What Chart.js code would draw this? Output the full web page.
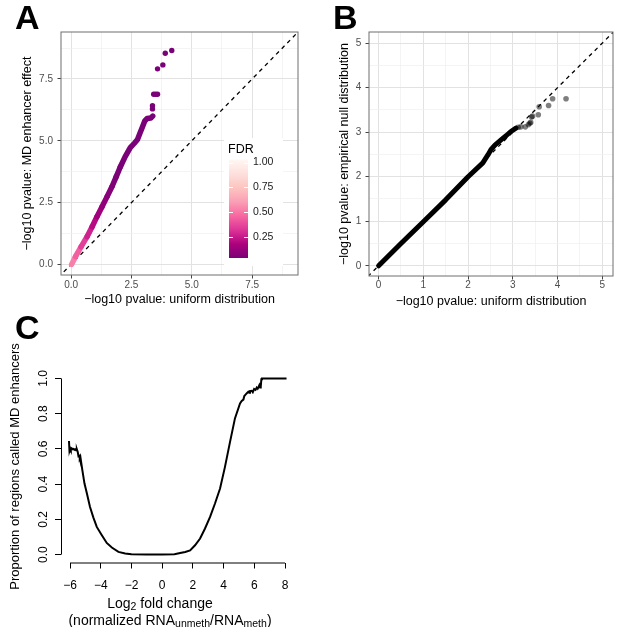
<!doctype html>
<html lang="en">
  <head>
    <meta charset="utf-8">
    <script src="https://cdn.jsdelivr.net/npm/chart.js@4.4.1/dist/chart.umd.min.js"></script>
    <title>MD enhancer QQ plots</title>
    <style>
      body { margin: 0; background: #fff; font-family: "Liberation Sans", Arial, sans-serif; }
      #fig { position: relative; width: 617px; height: 627px; overflow: hidden; }
      canvas { position: absolute; }
      .tag { position: absolute; font-size: 34px; font-weight: bold; line-height: 32px; color: #000; }
      .xt { position: absolute; width: 300px; text-align: center; font-size: 14px; line-height: 16px; color: #000; white-space: nowrap; }
      .xt sub { font-size: 10.5px; vertical-align: -2px; line-height: 0; }
    </style>
  </head>
  <body>
    <div id="fig">
      <canvas id="chartA" width="308" height="310" style="left:0;top:0"></canvas>
      <canvas id="chartB" width="309" height="310" style="left:308px;top:0"></canvas>
      <canvas id="chartC" width="308" height="317" style="left:0;top:310px"></canvas>
      <div class="tag" style="left:15px;top:1px">A</div>
      <div class="tag" style="left:333px;top:1px">B</div>
      <div class="tag" style="left:15px;top:311px">C</div>
      <div class="xt" style="left:10px;top:595px">Log<sub>2</sub> fold change</div>
      <div class="xt" style="left:20px;top:612px">(normalized RNA<sub>unmeth</sub>/RNA<sub>meth</sub>)</div>
    </div>

  <script>
    // panel A: observed -log10 p (MD enhancer effect) vs uniform
    const aBandX = [0.02, 0.18, 0.41, 0.66, 0.87, 1.07, 1.28, 1.49, 1.69, 1.87, 2.04, 2.24, 2.45, 2.62, 2.75, 2.85, 2.95, 3.05, 3.15, 3.30, 3.38];
    const aBandY = [0.00, 0.31, 0.71, 1.12, 1.52, 1.93, 2.33, 2.74, 3.14, 3.55, 3.95, 4.36, 4.72, 4.90, 5.05, 5.30, 5.55, 5.80, 5.90, 5.92, 6.00];
    const aBandFdr = [0.52, 0.44, 0.35, 0.27, 0.20, 0.14, 0.10, 0.07, 0.05, 0.04, 0.034, 0.034, 0.034, 0.034, 0.034, 0.034, 0.034, 0.034, 0.034, 0.034, 0.034];
    const aTopX = [3.37, 3.37, 3.42, 3.50, 3.58, 3.58, 3.80, 3.90, 4.17];
    const aTopY = [6.29, 6.42, 6.88, 6.88, 6.88, 7.91, 8.07, 8.54, 8.65];
    const aTopFdr = [0.034, 0.034, 0.034, 0.034, 0.034, 0.034, 0.034, 0.034, 0.034];
    const aTicks = [0, 2.5, 5, 7.5];
    const aMinor = [1.25, 3.75, 6.25, 8.75];
    const fdrTicks = [0.25, 0.5, 0.75, 1.0];

    // panel B: empirical null vs uniform
    const bBandX = [0.00, 0.50, 1.00, 1.50, 2.00, 2.33, 2.45, 2.52, 2.60, 2.73, 2.85, 2.95, 3.07];
    const bBandY = [0.00, 0.50, 0.99, 1.48, 2.00, 2.31, 2.50, 2.62, 2.71, 2.82, 2.92, 3.01, 3.09];
    const bTopX = [3.12, 3.18, 3.28, 3.35, 3.38, 3.40, 3.42, 3.44, 3.57, 3.59, 3.80, 3.89, 4.19];
    const bTopY = [3.11, 3.12, 3.12, 3.17, 3.20, 3.22, 3.34, 3.36, 3.39, 3.57, 3.60, 3.75, 3.75];
    const bTicks = [0, 1, 2, 3, 4, 5];
    const bMinor = [0.5, 1.5, 2.5, 3.5, 4.5];

    // y = x reference line
    const diag = [-1, 10];

    // panel C: proportion called MD enhancers by log2 fold change
    const foldChange = [-6.07, -6.04, -6.00, -5.95, -5.89, -5.83, -5.78, -5.72, -5.67, -5.61, -5.56, -5.50, -5.45, -5.40, -5.37, -5.33, -5.28, -5.20, -5.06, -4.91,
      -4.70, -4.48, -4.26, -3.93, -3.61, -3.28, -2.85, -2.41, -2.00, -1.00, 0.00, 0.80, 1.17, 1.50, 1.82, 2.14, 2.47, 2.79, 3.12, 3.44,
      3.77, 4.09, 4.42, 4.74, 5.07, 5.18, 5.29, 5.35, 5.40, 5.50, 5.61, 5.67, 5.72, 5.83, 5.90, 5.99, 6.08, 6.16, 6.22, 6.27,
      6.33, 6.38, 6.42, 6.46, 6.50, 8.10];
    const propMD = [0.645, 0.592, 0.605, 0.594, 0.603, 0.598, 0.600, 0.595, 0.598, 0.592, 0.598, 0.582, 0.558, 0.560, 0.548, 0.556, 0.526, 0.479, 0.403, 0.350,
      0.270, 0.210, 0.157, 0.110, 0.066, 0.040, 0.015, 0.006, 0.002, 0.000, 0.000, 0.002, 0.009, 0.015, 0.024, 0.053, 0.091, 0.148, 0.214, 0.290,
      0.375, 0.498, 0.640, 0.773, 0.858, 0.872, 0.880, 0.900, 0.905, 0.915, 0.924, 0.918, 0.928, 0.930, 0.922, 0.940, 0.935, 0.948, 0.942, 0.950,
      0.962, 0.948, 0.952, 0.995, 1.000, 1.000];
    const foldTicks = [-6, -4, -2, 0, 2, 4, 6, 8];
    const propTicks = [0, 0.2, 0.4, 0.6, 0.8, 1.0];

    Chart.defaults.font.family = '"Liberation Sans", Arial, sans-serif';

    // RdPu ramp for FDR
    const rdpu = ['#7a0177', '#ae017e', '#dd3497', '#f768a1', '#fa9fb5', '#fcc5c0', '#fde0dd', '#fff7f3'];
    const fdrLimits = [0.034, 1.031];
    const hex = h => [1, 3, 5].map(i => parseInt(h.slice(i, i + 2), 16));
    function fdrColor(v) {
      let t = (v - fdrLimits[0]) / (fdrLimits[1] - fdrLimits[0]);
      t = Math.max(0, Math.min(1, t)) * (rdpu.length - 1);
      const i = Math.min(Math.floor(t), rdpu.length - 2), f = t - i;
      const a = hex(rdpu[i]), b = hex(rdpu[i + 1]);
      return 'rgb(' + a.map((c, k) => Math.round(c + (b[k] - c) * f)).join(',') + ')';
    }

    const pts = (xs, ys) => xs.map((x, i) => ({ x: x, y: ys[i] }));

    // ggplot theme_bw style axis
    function ggAxis(min, max, majors, minors, fmt, title, o) {
      const isMajor = c => c.tick && majors.includes(c.tick.value);
      return {
        type: 'linear', min: min, max: max,
        afterBuildTicks: s => { s.ticks = majors.concat(minors).sort((p, q) => p - q).map(v => ({ value: v })); },
        afterFit: s => { if (o.w) s.width = o.w; if (o.h) s.height = o.h; },
        border: { display: false },
        grid: {
          color: c => isMajor(c) ? '#e2e2e2' : '#efefef',
          lineWidth: c => isMajor(c) ? 1 : 0.7,
          tickColor: c => isMajor(c) ? '#444' : 'rgba(0,0,0,0)',
          tickLength: 3.5, tickWidth: 1
        },
        ticks: { padding: o.tp, color: '#4d4d4d', font: { size: 10 }, autoSkip: false, maxRotation: 0,
          callback: v => majors.includes(v) ? fmt(v) : '' },
        title: { display: true, text: title, color: '#000', font: { size: 12.5 }, padding: o.title }
      };
    }

    const panelBorder = {
      id: 'panelBorder',
      afterDatasetsDraw(chart) {
        const { ctx, chartArea: a } = chart;
        ctx.save();
        ctx.strokeStyle = '#6e6e6e';
        ctx.lineWidth = 1;
        ctx.strokeRect(a.left, a.top, a.right - a.left, a.bottom - a.top);
        ctx.restore();
      }
    };

    // FDR colour bar, drawn inside panel A like the ggplot legend
    const fdrLegend = {
      id: 'fdrLegend',
      afterDraw(chart) {
        const ctx = chart.ctx;
        const bx = 229, top = 159.5, bottom = 258, bw = 19;
        const yOf = v => bottom - (v - fdrLimits[0]) / (fdrLimits[1] - fdrLimits[0]) * (bottom - top);
        ctx.save();
        ctx.fillStyle = '#fff';
        ctx.fillRect(224, 138, 59, 128);
        const g = ctx.createLinearGradient(0, bottom, 0, top);
        rdpu.forEach((c, i) => g.addColorStop(i / (rdpu.length - 1), c));
        ctx.fillStyle = g;
        ctx.fillRect(bx, top, bw, bottom - top);
        ctx.strokeStyle = '#fff';
        ctx.lineWidth = 1;
        ctx.font = '10.5px "Liberation Sans", Arial, sans-serif';
        ctx.textBaseline = 'middle';
        fdrTicks.forEach(v => {
          const y = Math.round(yOf(v)) + 0.5;
          ctx.beginPath();
          ctx.moveTo(bx, y); ctx.lineTo(bx + 4, y);
          ctx.moveTo(bx + bw - 4, y); ctx.lineTo(bx + bw, y);
          ctx.stroke();
          ctx.fillStyle = '#1a1a1a';
          ctx.fillText(v.toFixed(2), bx + bw + 5, yOf(v));
        });
        ctx.font = '12.5px "Liberation Sans", Arial, sans-serif';
        ctx.fillStyle = '#000';
        ctx.fillText('FDR', 228, 150);
        ctx.restore();
      }
    };

    // base R style axes for panel C
    const baseAxes = {
      id: 'baseAxes',
      afterDraw(chart) {
        const { ctx, chartArea: a, scales: { x, y } } = chart;
        ctx.save();
        ctx.strokeStyle = '#000';
        ctx.lineWidth = 1;
        ctx.beginPath();
        ctx.moveTo(a.left + 0.5, y.getPixelForValue(propTicks[0]));
        ctx.lineTo(a.left + 0.5, y.getPixelForValue(propTicks[propTicks.length - 1]));
        ctx.moveTo(x.getPixelForValue(foldTicks[0]), a.bottom + 0.5);
        ctx.lineTo(x.getPixelForValue(foldTicks[foldTicks.length - 1]), a.bottom + 0.5);
        ctx.stroke();
        ctx.fillStyle = '#000';
        ctx.font = '12px "Liberation Sans", Arial, sans-serif';
        ctx.textAlign = 'center';
        ctx.textBaseline = 'middle';
        propTicks.forEach(v => {
          ctx.save();
          ctx.translate(a.left - 17.5, y.getPixelForValue(v));
          ctx.rotate(-Math.PI / 2);
          ctx.fillText(v.toFixed(1), 0, 0);
          ctx.restore();
        });
        ctx.restore();
      }
    };

    const common = {
      responsive: false, animation: false, events: [],
      plugins: { legend: { display: false }, tooltip: { enabled: false } }
    };

    const diagLine = {
      data: pts(diag, diag), showLine: true, borderColor: '#000', borderWidth: 1.3,
      borderDash: [4, 4], pointRadius: 0, order: 3
    };

    new Chart(document.getElementById('chartA'), {
      type: 'scatter',
      data: {
        datasets: [
          diagLine,
          {
            data: pts(aBandX, aBandY), showLine: true, borderWidth: 5.5, pointRadius: 0,
            borderColor: fdrColor(0.034), borderCapStyle: 'round', borderJoinStyle: 'round',
            segment: { borderColor: c => fdrColor(aBandFdr[c.p0DataIndex]) }, order: 2
          },
          {
            data: pts(aTopX, aTopY), pointRadius: 2.7, pointBorderWidth: 0,
            pointBackgroundColor: aTopFdr.map(fdrColor), order: 1
          }
        ]
      },
      options: Object.assign({}, common, {
        layout: { padding: { top: 32, right: 10, left: 0, bottom: 0 } },
        scales: {
          x: ggAxis(-0.42, 9.4, aTicks, aMinor, v => v.toFixed(1), '\u2212log10 pvalue: uniform distribution',
            { h: 35, tp: 1.2, title: { top: 0, bottom: 2.5 } }),
          y: ggAxis(-0.43, 9.4, aTicks, aMinor, v => v.toFixed(1), '\u2212log10 pvalue: MD enhancer effect',
            { w: 61, tp: 4.5, title: { top: 20.5, bottom: 0 } })
        }
      }),
      plugins: [panelBorder, fdrLegend]
    });

    new Chart(document.getElementById('chartB'), {
      type: 'scatter',
      data: {
        datasets: [
          diagLine,
          {
            data: pts(bBandX, bBandY), showLine: true, borderWidth: 5, pointRadius: 0,
            borderColor: '#000', borderCapStyle: 'round', borderJoinStyle: 'round', order: 2
          },
          {
            data: pts(bTopX, bTopY), pointRadius: 2.8, pointBorderWidth: 0,
            pointBackgroundColor: 'rgba(0,0,0,0.5)', order: 1
          }
        ]
      },
      options: Object.assign({}, common, {
        layout: { padding: { top: 32, right: 3, left: 0, bottom: 0 } },
        scales: {
          x: ggAxis(-0.215, 5.24, bTicks, bMinor, v => String(v), '\u2212log10 pvalue: uniform distribution',
            { h: 34, tp: 0.2, title: { top: 0, bottom: 0.8 } }),
          y: ggAxis(-0.23, 5.25, bTicks, bMinor, v => String(v), '\u2212log10 pvalue: empirical null distribution',
            { w: 61, tp: 4.2, title: { top: 29.2, bottom: 0 } })
        }
      }),
      plugins: [panelBorder]
    });

    new Chart(document.getElementById('chartC'), {
      type: 'scatter',
      data: {
        datasets: [{
          data: pts(foldChange, propMD), showLine: true, borderColor: '#000', borderWidth: 2,
          pointRadius: 0, tension: 0
        }]
      },
      options: Object.assign({}, common, {
        layout: { padding: { top: 60.5, right: 14.4, left: 0, bottom: 0 } },
        scales: {
          x: {
            type: 'linear', min: -6.59, max: 8.56,
            afterBuildTicks: s => { s.ticks = foldTicks.map(v => ({ value: v })); },
            afterFit: s => { s.height = 64.5; },
            border: { display: false },
            grid: { drawOnChartArea: false, drawTicks: true, tickLength: 6, color: '#000', lineWidth: 1 },
            ticks: { padding: 10.3, color: '#000', font: { size: 12 }, autoSkip: false, maxRotation: 0,
              callback: v => v < 0 ? '\u2212' + Math.abs(v) : String(v) }
          },
          y: {
            type: 'linear', min: -0.045, max: 1.045,
            afterBuildTicks: s => { s.ticks = propTicks.map(v => ({ value: v })); },
            afterFit: s => { s.width = 61; },
            border: { display: false },
            grid: { drawOnChartArea: false, drawTicks: true, tickLength: 6, color: '#000', lineWidth: 1 },
            ticks: { display: false },
            title: { display: true, text: 'Proportion of regions called MD enhancers', color: '#000',
              font: { size: 13 }, padding: { top: 7.2, bottom: 0 } }
          }
        }
      }),
      plugins: [baseAxes]
    });
  </script>
  </body>
</html>
